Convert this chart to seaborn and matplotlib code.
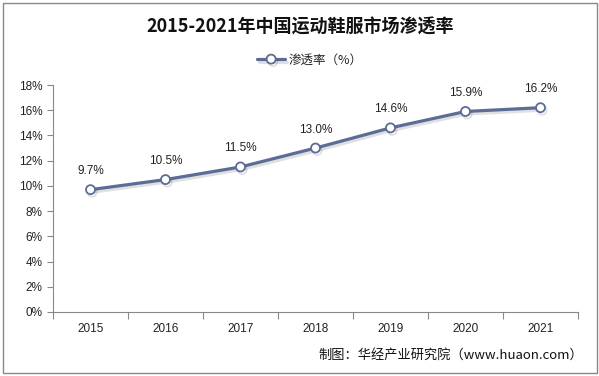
import matplotlib
matplotlib.use("Agg")
import matplotlib.pyplot as plt
import seaborn as sns
import pandas as pd
import numpy as np
from matplotlib.ticker import FixedLocator, PercentFormatter
import matplotlib.patheffects as pe

years = ["2015", "2016", "2017", "2018", "2019", "2020", "2021"]
rates = [9.7, 10.5, 11.5, 13.0, 14.6, 15.9, 16.2]
yticks = [0, 2, 4, 6, 8, 10, 12, 14, 16, 18]
series_name = "渗透率（%）"
title = "2015-2021年中国运动鞋服市场渗透率"
source = "制图：华经产业研究院（www.huaon.com）"

sns.set_theme(style="white")
plt.rcParams['font.family'] = ['Noto Sans CJK SC', 'DejaVu Sans']

df = pd.DataFrame({"year": years, "rate": rates, "x": np.arange(len(years))})

fig = plt.figure(figsize=(5.99, 3.76), dpi=100)
ax = fig.add_axes([53/599, 1-312/376, (578-53)/599, (312-85)/376])

line_color = "#5b6d96"
sns.lineplot(data=df, x="x", y="rate", ax=ax, color=line_color, linewidth=2.3,
             marker="o", markersize=6.5, markerfacecolor="white",
             markeredgecolor=line_color, markeredgewidth=1.3,
             label=series_name,
             path_effects=[pe.SimpleLineShadow(offset=(1.2, -1.8), alpha=0.15, shadow_color="#333333"), pe.Normal()])

for xi, v in zip(df["x"], df["rate"]):
    ax.annotate(f"{v:.1f}%", (xi, v), xytext=(0, 9), textcoords="offset points",
                ha="center", va="bottom", fontsize=8.5, color="#222222", family=['Liberation Sans', 'DejaVu Sans'])

ax.set_xlim(-0.5, len(years) - 0.5)
ax.set_ylim(0, 18)
ax.set_yticks(yticks)
ax.yaxis.set_major_formatter(PercentFormatter(decimals=0))
ax.set_xticks(df["x"])
ax.set_xticklabels(years)
ax.xaxis.set_minor_locator(FixedLocator(np.arange(-0.5, len(years), 1.0)))
ax.tick_params(axis="x", which="major", length=0, pad=8, labelsize=8.5, colors="#222222")
ax.tick_params(axis="x", which="minor", length=5, color="#888888", width=0.8, bottom=True)
ax.tick_params(axis="y", which="major", length=4, color="#888888", width=0.8, left=True, labelsize=8.5, colors="#222222")
for lbl in ax.get_xticklabels() + ax.get_yticklabels():
    lbl.set_family(['Liberation Sans', 'DejaVu Sans'])
ax.set_xlabel("")
ax.set_ylabel("")
for s in ["top", "right"]:
    ax.spines[s].set_visible(False)
for s in ["left", "bottom"]:
    ax.spines[s].set_color("#888888")
    ax.spines[s].set_linewidth(0.8)
ax.grid(False)

leg = ax.legend(loc="center", bbox_to_anchor=(310/599, 1-60/376), bbox_transform=fig.transFigure,
                frameon=False, fontsize=9, handlelength=2.2, handletextpad=0.3)

fig.text(300/599, 1-27/376, title, ha="center", va="center", fontsize=13, fontweight="bold", color="#111111")
fig.text(583/599, 1-355/376, source, ha="right", va="center", fontsize=9.5, color="#111111")

border = plt.Rectangle((3/599, 3/376), 594/599, 370/376, transform=fig.transFigure,
                       fill=False, edgecolor="#888888", linewidth=1.0)
fig.patches.append(border)

fig.savefig("out.png", dpi=100)
